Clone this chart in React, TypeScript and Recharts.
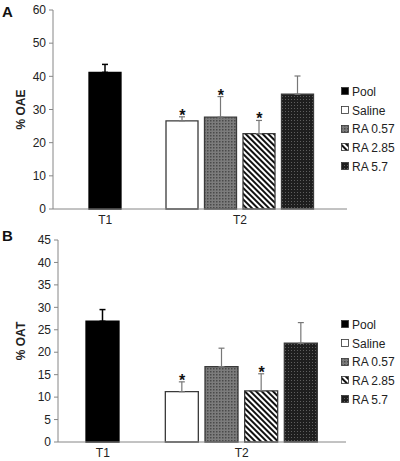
import React from 'react';
import { ComposedChart, Bar, XAxis, YAxis, ErrorBar, Scatter, Cell } from 'recharts';

const SERIES = ['Pool', 'Saline', 'RA 0.57', 'RA 2.85', 'RA 5.7'];
// which time point each series sits under (T1 only has the pooled group)
const SERIES_TIME = ['T1', 'T2', 'T2', 'T2', 'T2'];

const OAE_MEAN = [41.2, 26.6, 27.7, 22.7, 34.6];
const OAE_ERR = [2.4, 1.2, 6.2, 4.0, 5.5];
const OAE_SIG = [false, true, true, true, false];
const OAE_TICKS = [0, 10, 20, 30, 40, 50, 60];

const OAT_MEAN = [26.9, 11.2, 16.8, 11.4, 22.0];
const OAT_ERR = [2.6, 2.2, 4.1, 3.8, 4.6];
const OAT_SIG = [false, true, false, true, false];
const OAT_TICKS = [0, 5, 10, 15, 20, 25, 30, 35, 40, 45];

const FONT = 'Arial, "Liberation Sans", sans-serif';
const AXIS = '#868686';
const TEXT = '#222';

const fillFor = (i: number, id: string) =>
  ['#000', '#fff', `url(#${id}-mid)`, `url(#${id}-hatch)`, `url(#${id}-dark)`][i];

// slot list: Pool, empty slot, then the four T2 groups
const buildRows = (means: number[], errs: number[], sig: boolean[]) => {
  const rows: any[] = [];
  SERIES.forEach((name, i) => {
    if (i === 1) rows.push({ slot: 'gap', time: '', value: null });
    rows.push({
      slot: name,
      idx: i,
      time: SERIES_TIME[i],
      value: means[i],
      errDark: i === 0 ? [0, errs[i]] : null,
      errGray: i === 0 ? null : [0, errs[i]],
      star: sig[i] ? means[i] + errs[i] : null,
    });
  });
  // label each time point once
  rows.forEach((r) => (r.label = ''));
  rows[0].label = 'T1';
  rows[3].label = 'T2';
  return rows;
};

const Patterns = ({ id }: { id: string }) => (
  <defs>
    <pattern id={`${id}-mid`} width="3" height="3" patternUnits="userSpaceOnUse">
      <rect width="3" height="3" fill="#7c7c7c" />
      <rect width="1.5" height="1.5" fill="#4a4a4a" />
    </pattern>
    <pattern id={`${id}-hatch`} width="4" height="4" patternUnits="userSpaceOnUse" patternTransform="rotate(45)">
      <rect width="4" height="4" fill="#fff" />
      <rect width="4" height="2" fill="#111" />
    </pattern>
    <pattern id={`${id}-dark`} width="3" height="3" patternUnits="userSpaceOnUse">
      <rect width="3" height="3" fill="#1e1e1e" />
      <rect width="1" height="1" fill="#5e5e5e" />
    </pattern>
  </defs>
);

const TimeTick = ({ x, y, payload, rows }: any) => {
  const row = rows[payload.index];
  if (!row || !row.label) return null;
  const cx = row.label === 'T2' ? x + payload.offset : x;
  return (
    <text x={cx} y={y + 7} textAnchor="middle" fontSize={12} fontFamily={FONT} fill={TEXT}>
      {row.label}
    </text>
  );
};

const Star = (props: any) => {
  const { cx, cy, payload } = props;
  if (payload.star == null || cy == null) return <g />;
  return (
    <text x={cx} y={cy + 4} textAnchor="middle" fontSize={16} fontWeight="bold" fontFamily={FONT} fill="#111">
      *
    </text>
  );
};

const LegendBox = ({ id, top }: { id: string; top: number }) => (
  <div style={{ position: 'absolute', left: 341, top, fontFamily: FONT, fontSize: 12, color: TEXT }}>
    {SERIES.map((s, i) => (
      <div key={s} style={{ height: 18.7, display: 'flex', alignItems: 'center' }}>
        <svg width={9} height={9} style={{ marginRight: 2 }}>
          <rect x={0.5} y={0.5} width={7} height={7} fill={fillFor(i, id)} stroke="#333" strokeWidth={0.8} />
        </svg>
        <span>{s}</span>
      </div>
    ))}
  </div>
);

const Panel = ({ id, letter, letterTop, yLabel, means, errs, sig, ticks, yWidth, right, pad, barSize, height, axisHeight, legendTop, top }: any) => {
  const rows = buildRows(means, errs, sig);
  const max = ticks[ticks.length - 1];
  return (
    <div style={{ position: 'absolute', left: 0, top, width: 400, height }}>
      <div style={{ position: 'absolute', left: 2, top: letterTop, fontFamily: FONT, fontWeight: 'bold', fontSize: 15, lineHeight: '15px', color: '#111' }}>
        {letter}
      </div>
      <ComposedChart
        width={400}
        height={height}
        data={rows}
        style={{ overflow: 'visible' }}
        margin={{ top: 10, right, bottom: 0, left: 0 }}
      >
        <Patterns id={id} />
        <XAxis
          dataKey="slot"
          type="category"
          interval={0}
          padding={pad}
          height={axisHeight}
          tickLine={false}
          axisLine={{ stroke: AXIS }}
          tick={<TimeTick rows={rows} />}
        />
        <YAxis
          type="number"
          domain={[0, max]}
          ticks={ticks}
          width={yWidth}
          tickSize={4}
          tickMargin={3}
          tickLine={{ stroke: AXIS }}
          axisLine={{ stroke: AXIS }}
          tick={{ fontSize: 12, fontFamily: FONT, fill: TEXT }}
          label={({ viewBox }: any) => {
            const cx = viewBox.x + 21;
            const cy = viewBox.y + viewBox.height / 2;
            return (
              <text x={cx} y={cy} transform={`rotate(-90, ${cx}, ${cy})`} textAnchor="middle" dominantBaseline="central" fontSize={12} fontWeight="bold" fontFamily={FONT} fill={TEXT}>
                {yLabel}
              </text>
            );
          }}
        />
        <Bar dataKey="value" barSize={barSize} isAnimationActive={false}>
          {rows.map((r: any) => (
            <Cell
              key={r.slot}
              fill={r.idx == null ? 'none' : fillFor(r.idx, id)}
              stroke={r.idx === 0 ? '#000' : '#3a3a3a'}
              strokeWidth={1.3}
            />
          ))}
          <ErrorBar dataKey="errDark" width={3} stroke="#000" strokeWidth={1.5} direction="y" />
          <ErrorBar dataKey="errGray" width={3} stroke="#777" strokeWidth={1.2} direction="y" />
        </Bar>
        <Scatter dataKey="star" isAnimationActive={false} shape={<Star />} legendType="none" />
      </ComposedChart>
      <LegendBox id={id} top={legendTop} />
    </div>
  );
};

export default function App() {
  return (
    <div style={{ position: 'absolute', left: 0, top: 0, width: 400, height: 461, background: '#fff' }}>
      <Panel
        id="oae"
        letter="A"
        letterTop={4}
        yLabel="% OAE"
        means={OAE_MEAN}
        errs={OAE_ERR}
        sig={OAE_SIG}
        ticks={OAE_TICKS}
        yWidth={53}
        right={53}
        pad={{ left: 33, right: 30 }}
        barSize={32}
        height={230}
        axisHeight={21}
        legendTop={82.5}
        top={0}
      />
      <Panel
        id="oat"
        letter="B"
        letterTop={-2}
        yLabel="% OAT"
        means={OAT_MEAN}
        errs={OAT_ERR}
        sig={OAT_SIG}
        ticks={OAT_TICKS}
        yWidth={58}
        right={54}
        pad={{ left: 25, right: 25 }}
        barSize={33}
        height={231}
        axisHeight={19}
        legendTop={85.5}
        top={230}
      />
    </div>
  );
}
